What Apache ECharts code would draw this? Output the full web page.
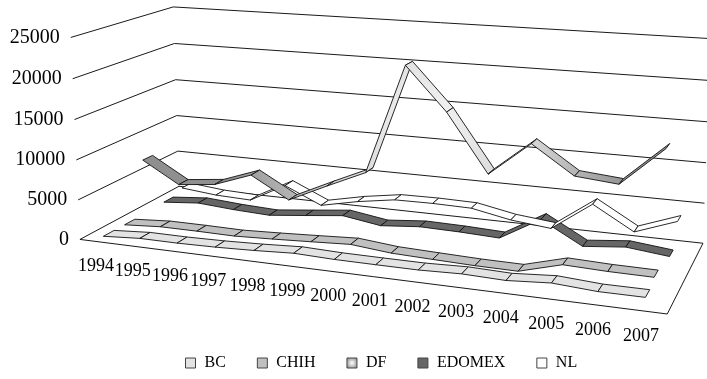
<!DOCTYPE html>
<html>
<head>
<meta charset="utf-8">
<script src="https://cdn.jsdelivr.net/npm/echarts@6/dist/echarts.min.js"></script>
<style>
  html, body { margin: 0; padding: 0; background: #ffffff; }
  #chart { width: 707px; height: 379px; }
</style>
</head>
<body>
<div id="chart"></div>
<script>
// ---- data ----
const categories = ['1994', '1995', '1996', '1997', '1998', '1999', '2000',
                    '2001', '2002', '2003', '2004', '2005', '2006', '2007'];
const valueTicks = [0, 5000, 10000, 15000, 20000, 25000];
const seriesNames = ['BC', 'CHIH', 'DF', 'EDOMEX', 'NL'];
const bcValues     = [310, 620, 610, 700, 880, 1140, 1000, 980, 980, 1150, 1020, 1370, 1050, 1060];
const chihValues   = [290, 600, 600, 550, 750, 990, 1250, 780, 620, 480, 440, 1820, 1660, 1620];
const dfValues     = [7400, 4670, 5190, 6900, 4230, 6500, 8680, 22140, 16930, 9960, 14040, 10710, 10260, 14820];
const edomexValues = [440, 850, 500, 290, 800, 1330, 580, 1010, 920, 720, 3600, 850, 1350, 810];
const nlValues     = [1030, 560, 390, 2880, 730, 1760, 2520, 2580, 2490, 1520, 1000, 4600, 1690, 3550];

// ---- 3D box projection ----
// World box: X along the categories, Y along the values, Z through the series (front = 0).
const boxCorners = [
  { world: [0, 0, 0], screen: [79, 239] },
  { world: [1, 0, 0], screen: [667, 315] },
  { world: [0, 0, 1], screen: [180, 187] },
  { world: [1, 0, 1], screen: [703, 242] },
  { world: [0, 1, 0], screen: [72, 37] },
  { world: [0, 1, 1], screen: [172, 7] },
  { world: [1, 1, 1], screen: [711, 39] }
];

function fitCamera(pts) {
  const n = 11;
  const M = Array.from({ length: n }, () => new Array(n + 1).fill(0));
  const addRow = (r, rhs) => {
    for (let i = 0; i < n; i++) {
      for (let j = 0; j < n; j++) M[i][j] += r[i] * r[j];
      M[i][n] += r[i] * rhs;
    }
  };
  pts.forEach(({ world: [X, Y, Z], screen: [u, v] }) => {
    addRow([X, Y, Z, 1, 0, 0, 0, 0, -u * X, -u * Y, -u * Z], u);
    addRow([0, 0, 0, 0, X, Y, Z, 1, -v * X, -v * Y, -v * Z], v);
  });
  for (let c = 0; c < n; c++) {
    let piv = c;
    for (let r = c + 1; r < n; r++) if (Math.abs(M[r][c]) > Math.abs(M[piv][c])) piv = r;
    [M[c], M[piv]] = [M[piv], M[c]];
    for (let r = 0; r < n; r++) {
      if (r === c) continue;
      const f = M[r][c] / M[c][c];
      for (let k = c; k <= n; k++) M[r][k] -= f * M[c][k];
    }
  }
  return M.map((row, i) => row[n] / row[i]);
}
const cam = fitCamera(boxCorners);
function project(X, Y, Z) {
  const w = cam[8] * X + cam[9] * Y + cam[10] * Z + 1;
  return [(cam[0] * X + cam[1] * Y + cam[2] * Z + cam[3]) / w,
          (cam[4] * X + cam[5] * Y + cam[6] * Z + cam[7]) / w];
}
// pixel from the hidden cartesian grid -> unit box coordinates
function toBox(pt, cs) {
  return { X: (pt[0] - cs.x) / cs.width, Y: (cs.y + cs.height - pt[1]) / cs.height };
}

const serifFont = 'Liberation Serif';
const seriesCount = seriesNames.length;
const ribbonFront = 0.25, ribbonBack = 0.75;   // share of each series slot taken by the ribbon

const dfFill = {
  type: 'radial', x: 430, y: 120, r: 210, global: true,
  colorStops: [
    { offset: 0, color: '#f4f4f4' },
    { offset: 0.5, color: '#d6d6d6' },
    { offset: 1, color: '#8f8f8f' }
  ]
};
const styles = {
  BC:     { fill: '#e3e3e3', icon: '#e3e3e3', z: 10 },
  CHIH:   { fill: '#c0c0c0', icon: '#c0c0c0', z: 9 },
  DF:     { fill: dfFill, icon: { type: 'radial', x: 0.5, y: 0.5, r: 0.6,
             colorStops: [{ offset: 0, color: '#ffffff' }, { offset: 1, color: '#8a8a8a' }] }, z: 8 },
  EDOMEX: { fill: '#666666', icon: '#666666', z: 6 },
  NL:     { fill: '#ffffff', icon: '#ffffff', z: 7 }
};
const valueLists = { BC: bcValues, CHIH: chihValues, DF: dfValues, EDOMEX: edomexValues, NL: nlValues };

function ribbonSeries(name, k) {
  const vals = valueLists[name];
  const segs = [];
  for (let i = 0; i < vals.length - 1; i++) segs.push([i, vals[i], vals[i + 1]]);
  const z0 = (k + ribbonFront) / seriesCount, z1 = (k + ribbonBack) / seriesCount;
  return {
    name, type: 'custom', coordinateSystem: 'cartesian2d', z: styles[name].z,
    itemStyle: { color: styles[name].icon, borderColor: '#000' },
    encode: { x: 0, y: [1, 2] },
    data: segs,
    silent: true,
    renderItem(params, api) {
      const cs = params.coordSys;
      const i = api.value(0);
      const a = toBox(api.coord([i, api.value(1)]), cs);
      const b = toBox(api.coord([i + 1, api.value(2)]), cs);
      const pts = [project(a.X, a.Y, z0), project(b.X, b.Y, z0),
                   project(b.X, b.Y, z1), project(a.X, a.Y, z1)];
      return {
        type: 'polygon', shape: { points: pts },
        style: { fill: styles[name].fill, stroke: '#111', lineWidth: 0.9, lineJoin: 'round' }
      };
    }
  };
}

// walls, floor and axis labels
const frameSeries = {
  type: 'custom', coordinateSystem: 'cartesian2d', z: 1, silent: true,
  data: [[0, 0]],
  renderItem(params, api) {
    const cs = params.coordSys;
    const children = [];
    const line = (pts) => children.push({
      type: 'polyline', shape: { points: pts },
      style: { stroke: '#1a1a1a', lineWidth: 1, fill: null }
    });
    valueTicks.forEach((t) => {
      const Y = toBox(api.coord([0, t]), cs).Y;
      line([project(0, Y, 0), project(0, Y, 1), project(1, Y, 1)]);
      const p = project(0, Y, 0);
      children.push({
        type: 'text',
        style: { text: String(t), x: p[0] - 11, y: p[1], align: 'right', verticalAlign: 'middle',
                 fontFamily: serifFont, fontSize: 20, fill: '#000' }
      });
    });
    line([project(0, 0, 0), project(1, 0, 0), project(1, 0, 1)]);
    categories.forEach((c, i) => {
      const X = toBox(api.coord([i, 0]), cs).X;
      const p = project(X, 0, 0);
      children.push({
        type: 'text',
        style: { text: c, x: p[0] - 2, y: p[1] + 25, align: 'center', verticalAlign: 'middle',
                 fontFamily: serifFont, fontSize: 18, fill: '#000' }
      });
    });
    return { type: 'group', children };
  }
};

const chart = echarts.init(document.getElementById('chart'));
chart.setOption({
  animation: false,
  backgroundColor: '#ffffff',
  grid: { left: 0, right: 0, top: 0, bottom: 0, containLabel: false },
  xAxis: { type: 'category', data: categories, boundaryGap: true, show: false },
  yAxis: { type: 'value', min: valueTicks[0], max: valueTicks[valueTicks.length - 1],
           interval: 5000, show: false },
  legend: {
    bottom: 3, left: 180, icon: 'rect', itemWidth: 10, itemHeight: 10, itemGap: 31,
    textStyle: { fontFamily: serifFont, fontSize: 16, color: '#000', padding: [0, 0, 0, 4] },
    data: seriesNames.map((n) => ({
      name: n, itemStyle: { color: styles[n].icon, borderColor: '#444', borderWidth: 1 }
    }))
  },
  series: [frameSeries].concat(seriesNames.map((n, k) => ribbonSeries(n, k)))
});
</script>
</body>
</html>
